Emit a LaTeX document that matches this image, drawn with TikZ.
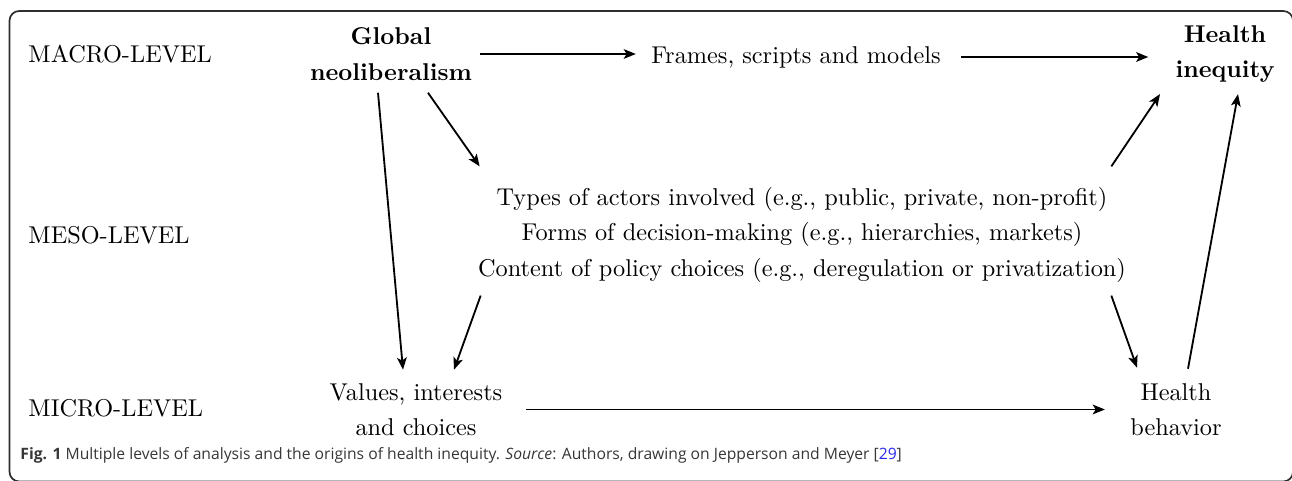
\documentclass[tikz,border=0pt]{standalone}
\usepackage{fontspec}
\newfontfamily\capfont{Open Sans}
\usepackage{tikz}
\usetikzlibrary{arrows.meta,calc}
\definecolor{captext}{RGB}{55,55,55}
\definecolor{capblue}{RGB}{40,40,235}
\definecolor{framegray}{RGB}{45,45,45}

\begin{document}
\begin{tikzpicture}[
    x=0.4115pt, y=-0.4115pt,
    lbl/.style={inner sep=0pt,align=center,font=\fontsize{10}{14.6}\selectfont},
    boldlbl/.style={lbl,font=\fontsize{10}{14.6}\selectfont\bfseries},
    lvl/.style={inner sep=0pt,anchor=base west,font=\fontsize{10}{14.6}\selectfont},
    arr/.style={->,line width=0.75pt},
    >={Stealth[length=5pt,width=4pt,inset=1.2pt]}
]
\useasboundingbox (0,0) rectangle (1292,481);
\draw[framegray,line width=0.7pt,rounded corners=4pt] (9.5,11) rectangle (1293,481.5);

% level labels
\node[lvl] (macro) at (28,63) {MACRO-LEVEL};
\node[lvl] (mesolbl) at (28,244) {MESO-LEVEL};
\node[lvl] (micro) at (28,416) {MICRO-LEVEL};

% diagram
\node[boldlbl] (glob) at (391,54) {Global\\neoliberalism};
\node[lbl] (frames) at (796,57) {Frames, scripts and models};
\node[boldlbl] (ineq) at (1225,54) {Health\\inequity};
\node[lbl] (meso) at (802,234.5) {Types of actors involved (e.g., public, private, non-profit)\\
    Forms of decision-making (e.g., hierarchies, markets)\\
    Content of policy choices (e.g., deregulation or privatization)};
\node[lbl] (values) at (416,409.5) {Values, interests\\and choices};
\node[lbl] (behav) at (1176,409.5) {Health\\behavior};

\draw[arr,shorten <=3.3pt,shorten >=6.2pt] (glob.east) -- (glob.east -| frames.west);
\draw[arr,shorten <=8.2pt,shorten >=11pt] (frames.east) -- (frames.east -| ineq.west);
\draw[arr] ($(glob.south)+(37,12)$) -- ($(meso.north west)+(2,-20)$);
\draw[arr] ($(glob.south)+(-13,12)$) -- ($(values.north)+(-13,-13)$);
\draw[arr] ($(meso.south west)+(3,13)$) -- ($(values.north)+(38,-13)$);
\draw[arr] ($(meso.north east)+(-15,-20)$) -- ($(ineq.south west)+(-15,11)$);
\draw[arr] ($(meso.south east)+(-15,13)$) -- ($(behav.north)+(-39,-15)$);
\draw[arr] ($(behav.north)+(12,-14)$) -- ($(ineq.south)+(13,11)$);
\draw[arr,shorten <=9.5pt,shorten >=10.3pt] (values.east) -- (values.east -| behav.west);

% caption
\node[inner sep=0pt,anchor=base west,text=captext,font=\capfont\fontsize{6.45}{8}\selectfont] (cap) at (20,459)
    {{\bfseries Fig. 1} Multiple levels of analysis and the origins of health inequity. \textit{Source}: Authors, drawing on Jepperson and Meyer [\textcolor{capblue}{29}]};
\end{tikzpicture}
\end{document}
